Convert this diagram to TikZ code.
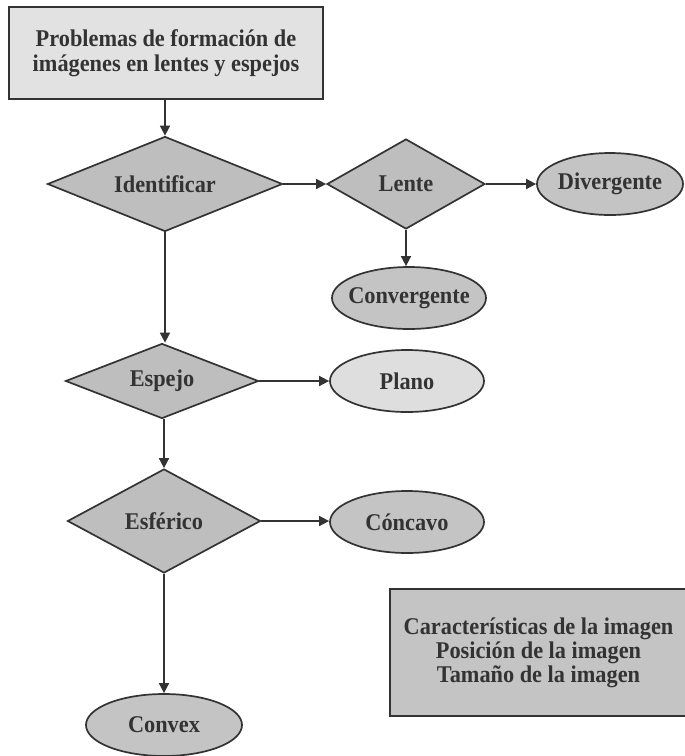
\documentclass[tikz,border=0pt]{standalone}
\usepackage{fontspec}
\setmainfont{Liberation Serif}[FakeStretch=0.93]
\usetikzlibrary{shapes.geometric,arrows.meta}
\definecolor{ink}{RGB}{51,51,51}
\definecolor{dfill}{RGB}{190,190,190}
\definecolor{efill}{RGB}{196,196,196}
\definecolor{lfill}{RGB}{222,222,222}
\definecolor{bfill}{RGB}{226,226,226}
\newcommand{\nw}[1]{\makebox[0pt]{#1}}
\tikzset{
  every node/.style={text=ink,font=\bfseries\fontsize{24}{25}\selectfont},
  dia/.style={diamond,draw=ink,line width=1.7pt,fill=dfill,inner sep=0pt},
  ell/.style={ellipse,draw=ink,line width=1.7pt,fill=efill,inner sep=0pt,minimum width=154pt,minimum height=62pt},
  rbox/.style={rectangle,draw=ink,line width=1.7pt,align=center,inner sep=0pt},
  arr/.style={draw=ink,line width=1.5pt,-{Triangle[length=10pt,width=10pt]}}
}
\begin{document}
\begin{tikzpicture}[x=1pt,y=-1pt]
\useasboundingbox (0,0) rectangle (685,756);
\node[rbox,fill=bfill,minimum width=314pt,minimum height=92pt] (top) at (166,53) {Problemas de formación de\\imágenes en lentes y espejos};
\node[dia,minimum width=235pt,minimum height=95pt] (ident) at (165,184) {\nw{Identificar}};
\node[dia,minimum width=158pt,minimum height=90pt] (lente) at (406,184) {\nw{Lente}};
\node[ell,minimum width=146pt] (div) at (610,184) {\nw{Divergente}};
\node[ell] (conv) at (409,298) {\nw{Convergente}};
\node[dia,minimum width=193pt,minimum height=75pt] (esp) at (162,381) {\nw{Espejo}};
\node[ell,fill=lfill] (plano) at (407,381) {\nw{Plano}};
\node[dia,minimum width=193pt,minimum height=104pt] (esf) at (164,521) {\nw{Esférico}};
\node[ell] (conc) at (407,522) {\nw{Cóncavo}};
\node[ell,minimum width=156pt] (convex) at (164,725) {\nw{Convex}};
\node[rbox,fill=efill,minimum width=297pt,minimum height=127pt,font=\bfseries\fontsize{24}{24}\selectfont] (feat) at (538.5,652.5) {Características de la imagen\\Posición de la imagen\\Tamaño de la imagen};
\draw[arr] (top.south -| ident.north) -- (ident.north);
\draw[arr] (ident.east) -- (lente.west);
\draw[arr] (lente.east) -- (div.west);
\draw[arr] (lente.south) -- (conv.north -| lente.south);
\draw[arr] (ident.south) -- (esp.north -| ident.south);
\draw[arr] (esp.east) -- (plano.west |- esp.east);
\draw[arr] (esp.south -| esf.north) -- (esf.north);
\draw[arr] (esf.east) -- (conc.west |- esf.east);
\draw[arr] (esf.south) -- (convex.north);
\end{tikzpicture}
\end{document}
